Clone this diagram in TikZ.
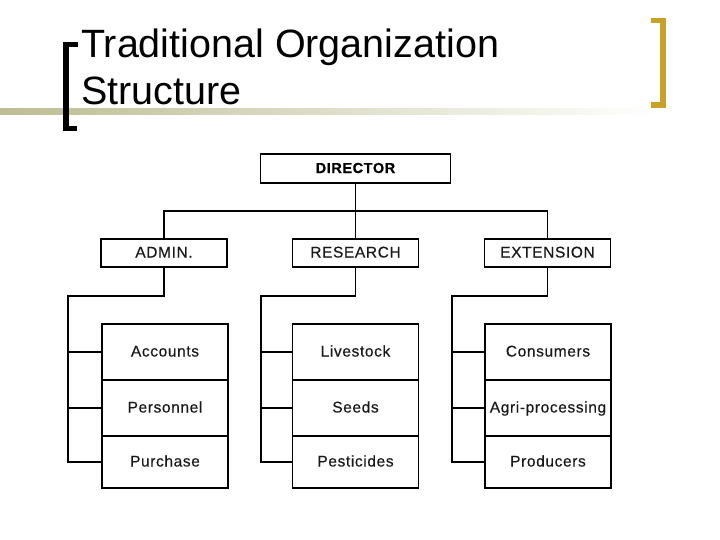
\documentclass[tikz,border=0pt]{standalone}
\usepackage{fontspec}
\setmainfont{Liberation Sans}
\newfontfamily\boxfont{Liberation Sans}[LetterSpace=4, FakeBold=0.4]
\usepackage{xcolor}
\usepackage{tikz}
\usetikzlibrary{positioning}

\definecolor{barolive}{RGB}{188,189,147}
\definecolor{bracketgold}{RGB}{201,160,40}

\begin{document}
\begin{tikzpicture}[x=1pt,y=-1pt,
node distance=0pt,
head/.style={draw, line width=1.8pt, minimum width=190pt, minimum height=29pt, inner sep=0pt, text height=11pt, text depth=2pt, font=\boxfont\fontsize{14.5}{16}\selectfont\bfseries},
unit/.style={draw, line width=1.8pt, minimum width=126pt, minimum height=28pt, inner sep=0pt, text height=11pt, text depth=2pt, text=black!90, font=\boxfont\fontsize{15.5}{17}\selectfont},
cell/.style={draw, line width=1.8pt, minimum width=126pt, minimum height=56pt, inner sep=0pt, outer sep=0pt, text height=11.5pt, text depth=2.5pt, text=black!90, font=\boxfont\fontsize{15.5}{17}\selectfont},
conn/.style={line width=1.8pt},
bracket/.style={line width=5.5pt, line join=miter}
]
\useasboundingbox (0,0) rectangle (720,539);

% title bar
\shade[left color=barolive, middle color=barolive!75!white, right color=white] (0,108) rectangle (660,114.5);
\draw[bracket] (78,44.5) -- (66,44.5) -- (66,128.5) -- (77,128.5);
\draw[bracket, bracketgold] (651,20.5) -- (663,20.5) -- (663,105) -- (651,105);
\node[anchor=base west, inner sep=0pt, font=\fontsize{39.5}{46}\selectfont] (title) at (81,57) {Traditional Organization};
\node[anchor=base west, inner sep=0pt, font=\fontsize{39.5}{46}\selectfont] (title2) at (81,104) {Structure};

% top levels
\node[head] (director) at (355.5,168.5) {DIRECTOR};
\node[unit] (admin) at (164,253) {ADMIN.};
\node[unit] (research) at (355.5,253) {RESEARCH};
\node[unit] (extension) at (547.5,253) {EXTENSION};

\coordinate (split) at (355.5,211);
\draw[conn] (director.south) -- (research.north);
\draw[conn] (admin.north) |- (split) -| (extension.north);

% sections
\node[cell] (accounts) at (165,352) {Accounts};
\node[cell, below=of accounts] (personnel) {Personnel};
\node[cell, below=of personnel, minimum height=52pt] (purchase) {Purchase};

\node[cell] (livestock) at (355.5,352) {Livestock};
\node[cell, below=of livestock] (seeds) {Seeds};
\node[cell, below=of seeds, minimum height=52pt] (pesticides) {Pesticides};

\node[cell] (consumers) at (548,352) {Consumers};
\node[cell, below=of consumers] (agri) {Agri-processing};
\node[cell, below=of agri, minimum height=52pt] (producers) {Producers};

\coordinate (adminbus) at (68,296);
\coordinate (resbus) at (261,296);
\coordinate (extbus) at (452,296);

\draw[conn] (admin.south) |- (adminbus) |- (purchase.west);
\draw[conn] (adminbus |- accounts.west) -- (accounts.west);
\draw[conn] (adminbus |- personnel.west) -- (personnel.west);

\draw[conn] (research.south) |- (resbus) |- (pesticides.west);
\draw[conn] (resbus |- livestock.west) -- (livestock.west);
\draw[conn] (resbus |- seeds.west) -- (seeds.west);

\draw[conn] (extension.south) |- (extbus) |- (producers.west);
\draw[conn] (extbus |- consumers.west) -- (consumers.west);
\draw[conn] (extbus |- agri.west) -- (agri.west);
\end{tikzpicture}
\end{document}
